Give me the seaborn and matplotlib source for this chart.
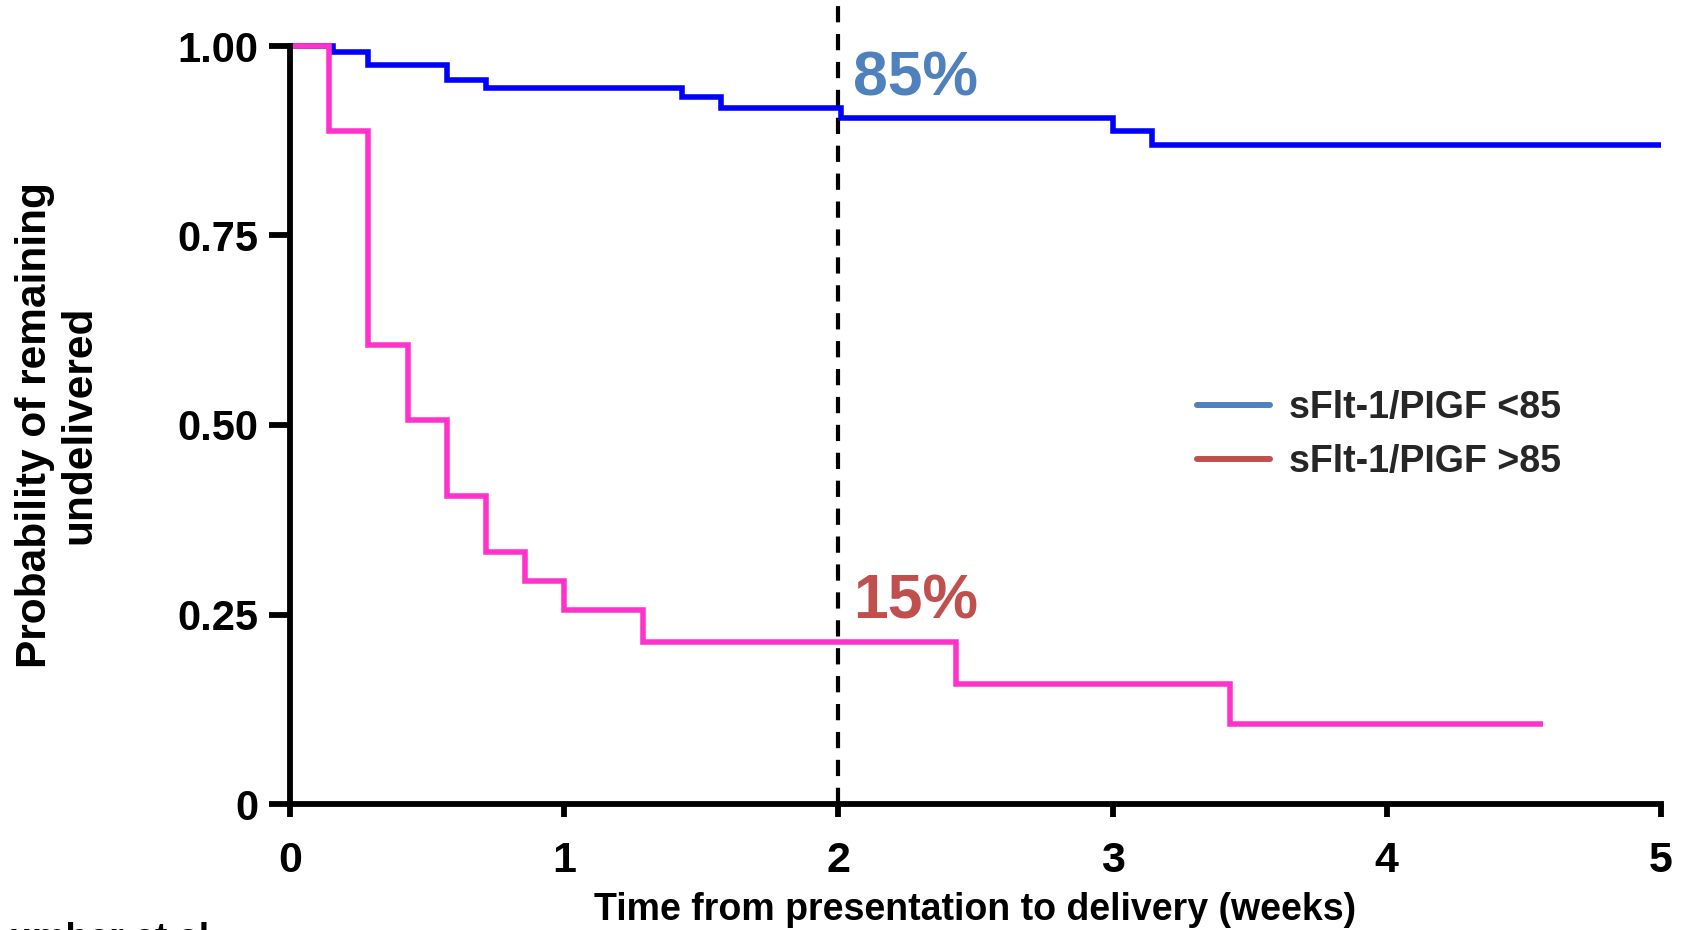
import matplotlib
matplotlib.use("Agg")
import matplotlib.pyplot as plt
import seaborn as sns
import pandas as pd
from matplotlib.lines import Line2D

# ---- data ----
low_t = [0, 0.155, 0.286, 0.571, 0.714, 1.429, 1.571, 2.01, 3.0, 3.143, 5.0]
low_s = [1.0, 0.992, 0.975, 0.955, 0.945, 0.933, 0.918, 0.905, 0.888, 0.870, 0.870]
high_t = [0, 0.143, 0.286, 0.429, 0.571, 0.714, 0.857, 1.0, 1.286, 2.429, 3.429, 4.571]
high_s = [1.0, 0.888, 0.605, 0.506, 0.406, 0.332, 0.294, 0.256, 0.214, 0.158, 0.106, 0.106]
group_labels = ["sFlt-1/PIGF <85", "sFlt-1/PIGF >85"]
line_colors = ["#0000FF", "#FF33CC"]
legend_colors = ["#4F81BD", "#C0504D"]
annot_texts = ["85%", "15%"]
annot_y = [0.935, 0.245]
x_ticks = [0, 1, 2, 3, 4, 5]
y_ticks = [0, 0.25, 0.50, 0.75, 1.00]
y_tick_labels = ["0", "0.25", "0.50", "0.75", "1.00"]
cutoff_week = 2

sns.set_theme(style="ticks")
plt.rcParams["font.family"] = ["Liberation Sans", "DejaVu Sans"]
plt.rcParams["font.weight"] = "bold"

df = pd.concat([
    pd.DataFrame({"t": low_t, "s": low_s, "g": group_labels[0]}),
    pd.DataFrame({"t": high_t, "s": high_s, "g": group_labels[1]}),
])

fig = plt.figure(figsize=(16.86, 9.30), dpi=100)
ax = fig.add_axes([290 / 1686, 1 - 804 / 930, 1371 / 1686, 758 / 930])

sns.lineplot(data=df, x="t", y="s", hue="g", hue_order=group_labels,
             palette=dict(zip(group_labels, line_colors)), estimator=None,
             drawstyle="steps-post", linewidth=4.0, legend=False, ax=ax,
             clip_on=False)
for ln in ax.get_lines():
    ln.set_solid_joinstyle("miter")
    ln.set_solid_capstyle("butt")

ax.plot([cutoff_week, cutoff_week], [0, 1.062], color="black", lw=3.0,
        linestyle=(0, (3.9, 2.8)), clip_on=False, zorder=1)

for txt, yy, col in zip(annot_texts, annot_y, legend_colors):
    ax.text(2.055, yy, txt, color=col, fontsize=45, fontweight="bold",
            ha="left", va="baseline")

ax.set_xlim(0, 5)
ax.set_ylim(0, 1)
ax.set_xticks(x_ticks)
ax.set_xticklabels([str(v) for v in x_ticks])
ax.set_yticks(y_ticks)
ax.set_yticklabels(y_tick_labels)
sns.despine(ax=ax)
for sp in ["left", "bottom"]:
    ax.spines[sp].set_linewidth(4.2)
    ax.spines[sp].set_color("black")
ax.tick_params(axis="y", length=15, width=4.2, pad=8, labelsize=30, colors="black")
ax.tick_params(axis="x", length=9.5, width=4.2, pad=17, labelsize=31, colors="black")
for lab in ax.get_xticklabels() + ax.get_yticklabels():
    lab.set_fontweight("bold")

ax.set_xlabel("Time from presentation to delivery (weeks)", fontsize=27,
              fontweight="bold", color="black", va="top")
ax.xaxis.set_label_coords(0.5, -0.116)
ax.set_ylabel("Probability of remaining\nundelivered", fontsize=30.5,
              fontweight="bold", color="black", linespacing=1.15)
ax.yaxis.set_label_coords(-0.139, 0.5)

handles = [Line2D([0], [0], color=c, lw=4.3) for c in legend_colors]
fig.legend(handles, group_labels, loc="center left",
           bbox_to_anchor=(1197 / 1686, 1 - 435 / 930), frameon=False,
           handlelength=1.95, handletextpad=0.5,
           labelspacing=0.5, borderpad=0, borderaxespad=0,
           prop={"weight": "bold", "size": 27})

fig.text(9 / 1686, 1 - 922 / 930, "umber et al", fontsize=27,
         fontweight="bold", color="black", ha="left", va="top")

fig.savefig("out.png", dpi=100, facecolor="white")
